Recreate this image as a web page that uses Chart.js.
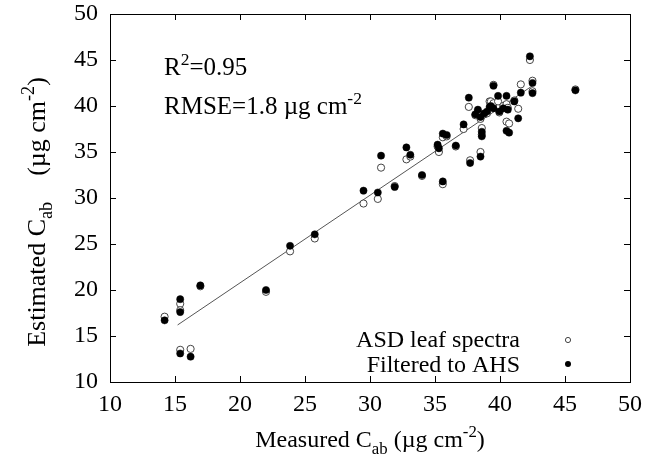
<!DOCTYPE html>
<html>
<head>
<meta charset="utf-8">
<script src="https://cdn.jsdelivr.net/npm/chart.js@4.4.0/dist/chart.umd.min.js"></script>
<style>
html, body { margin: 0; padding: 0; background: #fff; }
#wrap { width: 645px; height: 460px; }
</style>
</head>
<body>
<div id="wrap"><canvas id="chart" width="645" height="460"></canvas></div>
<script>
// measured Cab and the two estimates for each sample
var measured = [14.2, 15.4, 15.4, 15.4, 16.2, 16.95, 22.0, 23.85, 25.75, 29.5,
    30.6, 30.85, 31.9, 32.8, 33.1, 34.0, 35.3, 35.2, 35.6, 35.6,
    35.9, 36.6, 37.2, 37.6, 37.7, 38.1, 38.3, 38.5, 38.5, 38.6,
    38.6, 38.8, 39.0, 39.2, 39.3, 39.5, 39.5, 39.85, 39.95, 40.25,
    40.5, 40.5, 40.6, 40.7, 41.1, 41.4, 41.6, 42.3, 42.5, 42.5, 45.8];
var asdEstimated = [17.1, 18.5, 17.8, 13.5, 13.6, 20.4, 19.8, 24.2, 25.6, 29.4,
    29.9, 33.3, 31.3, 34.2, 34.5, 32.4, 35.0, 35.6, 31.5, 36.6,
    36.7, 35.6, 37.5, 39.9, 34.1, 39.0, 39.4, 35.0, 38.6, 37.6,
    36.9, 39.1, 39.2, 40.5, 40.5, 42.3, 40.3, 40.5, 39.3, 40.0,
    40.2, 38.3, 39.8, 38.1, 40.6, 39.7, 42.35, 45.0, 42.75, 41.6, 41.8];
var ahsEstimated = [16.7, 19.0, 17.6, 13.1, 12.75, 20.5, 20.0, 24.8, 26.05, 30.8,
    30.6, 34.6, 31.2, 35.5, 34.7, 32.5, 35.4, 35.8, 31.8, 37.0,
    36.85, 35.7, 38.0, 40.9, 33.8, 39.1, 39.6, 34.5, 38.8, 37.2,
    36.7, 39.2, 39.4, 39.9, 40.0, 42.2, 39.75, 41.1, 39.4, 39.75,
    41.1, 37.3, 39.6, 37.1, 40.5, 38.66, 41.45, 45.4, 42.5, 41.4, 41.7];
// regression line end points
var fitX = [15.2, 42.6];
var fitY = [16.2, 42.3];
var xTicks = [10, 15, 20, 25, 30, 35, 40, 45, 50];
var yTicks = [10, 15, 20, 25, 30, 35, 40, 45, 50];

var FONT = '"Liberation Serif", "Times New Roman", serif';

var toPoints = function(xs, ys) {
    return xs.map(function(x, i) { return {x: x, y: ys[i]}; });
};

// draw text made of normal / sub / super parts, returns width
var drawRich = function(ctx, parts, x, y, size, align) {
    var w = 0;
    parts.forEach(function(p) {
        ctx.font = (p.s ? size * 0.7 : size) + 'px ' + FONT;
        p.w = ctx.measureText(p.t).width;
        w += p.w;
    });
    var cx = x;
    if (align == 'center') cx = x - w / 2;
    if (align == 'right') cx = x - w;
    ctx.textAlign = 'left';
    ctx.textBaseline = 'alphabetic';
    parts.forEach(function(p) {
        ctx.font = (p.s ? size * 0.7 : size) + 'px ' + FONT;
        var dy = 0;
        if (p.s == 'sub') dy = size * 0.28;
        if (p.s == 'sup') dy = -size * 0.42;
        ctx.fillText(p.t, cx, y + dy);
        cx += p.w;
    });
    return w;
};

var framePlugin = {
    id: 'frame',
    afterDraw: function(chart) {
        var ctx = chart.ctx;
        var a = chart.chartArea;
        var xs = chart.scales.x, ys = chart.scales.y;
        ctx.save();
        ctx.strokeStyle = '#000';
        ctx.lineWidth = 1;
        ctx.strokeRect(Math.round(a.left) + 0.5, Math.round(a.top) + 0.5,
            Math.round(a.right - a.left), Math.round(a.bottom - a.top));
        ctx.beginPath();
        xTicks.forEach(function(v) {
            var px = Math.round(xs.getPixelForValue(v)) + 0.5;
            ctx.moveTo(px, a.bottom); ctx.lineTo(px, a.bottom - 6);
            ctx.moveTo(px, a.top); ctx.lineTo(px, a.top + 6);
        });
        yTicks.forEach(function(v) {
            var py = Math.round(ys.getPixelForValue(v)) + 0.5;
            ctx.moveTo(a.left, py); ctx.lineTo(a.left + 6, py);
            ctx.moveTo(a.right, py); ctx.lineTo(a.right - 6, py);
        });
        ctx.stroke();

        ctx.fillStyle = '#000';
        // axis titles
        drawRich(ctx, [{t: 'Measured C'}, {t: 'ab', s: 'sub'}, {t: ' (\u00b5g cm'}, {t: '-2', s: 'sup'}, {t: ')'}],
            (a.left + a.right) / 2, 447, 24, 'center');
        ctx.save();
        ctx.translate(45, 212);
        ctx.rotate(-Math.PI / 2);
        drawRich(ctx, [{t: 'Estimated C'}, {t: 'ab', s: 'sub'}, {t: '    (\u00b5g cm'}, {t: '-2', s: 'sup'}, {t: ')'}],
            0, 0, 26, 'center');
        ctx.restore();

        // statistics
        drawRich(ctx, [{t: 'R'}, {t: '2', s: 'sup'}, {t: '=0.95'}], 164, 75, 25, 'left');
        drawRich(ctx, [{t: 'RMSE=1.8 \u00b5g cm'}, {t: '-2', s: 'sup'}], 164, 114, 25, 'left');

        // legend
        drawRich(ctx, [{t: 'ASD leaf spectra'}], 520, 347, 24, 'right');
        drawRich(ctx, [{t: 'Filtered to AHS'}], 520, 372, 24, 'right');
        ctx.beginPath();
        ctx.arc(568, 340, 2.6, 0, Math.PI * 2);
        ctx.fillStyle = '#fff';
        ctx.fill();
        ctx.strokeStyle = '#444';
        ctx.stroke();
        ctx.beginPath();
        ctx.arc(568, 364, 3, 0, Math.PI * 2);
        ctx.fillStyle = '#000';
        ctx.fill();
        ctx.restore();
    }
};

var initChart = function() {
    var ctx = document.getElementById('chart').getContext('2d');
    var scaleTicks = function(list) {
        return function(scale) {
            scale.ticks = list.map(function(v) { return {value: v}; });
        };
    };
    new Chart(ctx, {
        type: 'scatter',
        data: {
            datasets: [
                {
                    label: 'Filtered to AHS',
                    data: toPoints(measured, ahsEstimated),
                    pointRadius: 3.6,
                    pointBackgroundColor: '#000',
                    pointBorderColor: '#000',
                    pointBorderWidth: 0.5,
                    order: 0
                },
                {
                    label: 'ASD leaf spectra',
                    data: toPoints(measured, asdEstimated),
                    pointRadius: 3.6,
                    pointBackgroundColor: '#fff',
                    pointBorderColor: '#444',
                    pointBorderWidth: 1,
                    order: 1
                },
                {
                    type: 'line',
                    label: 'fit',
                    data: toPoints(fitX, fitY),
                    borderColor: '#555',
                    borderWidth: 1,
                    pointRadius: 0,
                    fill: false,
                    order: 2
                }
            ]
        },
        options: {
            responsive: false,
            animation: false,
            layout: {padding: {left: 0, right: 15, top: 14, bottom: 0}},
            plugins: {legend: {display: false}, tooltip: {enabled: false}},
            scales: {
                x: {
                    type: 'linear', min: 10, max: 50,
                    afterBuildTicks: scaleTicks(xTicks),
                    afterFit: function(s) { s.height = 78; s.paddingLeft = 0; s.paddingRight = 0; },
                    grid: {display: false, drawTicks: false},
                    border: {display: false},
                    ticks: {color: '#000', padding: 8, font: {family: FONT, size: 24}}
                },
                y: {
                    type: 'linear', min: 10, max: 50,
                    afterBuildTicks: scaleTicks(yTicks),
                    afterFit: function(s) { s.width = 110; s.paddingTop = 0; s.paddingBottom = 0; },
                    grid: {display: false, drawTicks: false},
                    border: {display: false},
                    ticks: {color: '#000', padding: 12, font: {family: FONT, size: 24}}
                }
            }
        },
        plugins: [framePlugin]
    });
};

window.onload = initChart;
</script>
</body>
</html>
